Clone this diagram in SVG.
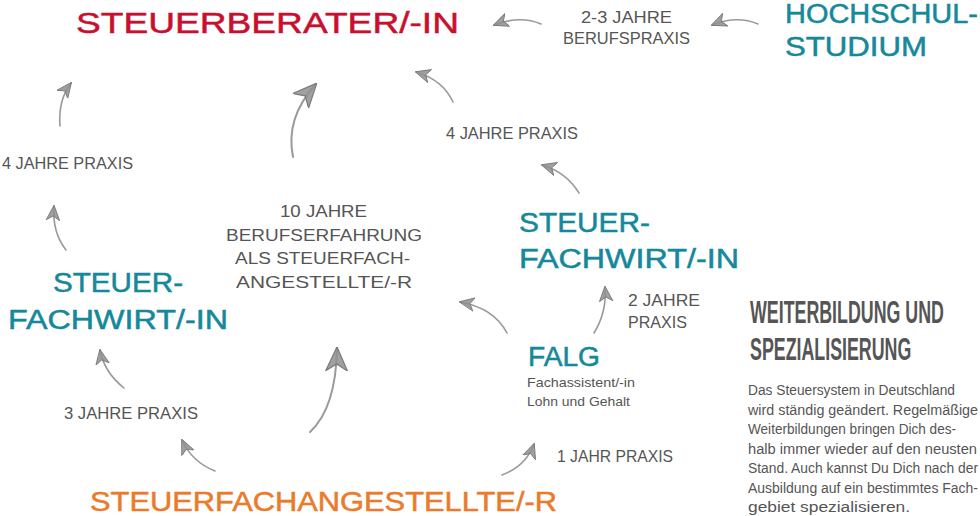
<svg xmlns="http://www.w3.org/2000/svg" width="980" height="516" viewBox="0 0 980 516">
<defs>
<style>
.h{font-family:"Liberation Sans","DejaVu Sans",sans-serif;}
.lbl{fill:#555;font-size:16.5px;}
.teal{fill:#15889b;stroke:#15889b;stroke-width:0.5;font-size:27px;}
.red{fill:#c8102e;stroke:#c8102e;stroke-width:0.5;font-size:30px;}
.orange{fill:#ea7b2b;stroke:#ea7b2b;stroke-width:0.5;font-size:28px;}
.sub{fill:#555;font-size:13.5px;font-family:"Liberation Sans","DejaVu Sans",sans-serif;}
.head{fill:#555;font-size:31px;font-weight:bold;font-family:"Liberation Sans","DejaVu Sans",sans-serif;}
.body{fill:#555;font-size:14px;font-family:"Liberation Sans","DejaVu Sans",sans-serif;}
.arr{fill:none;stroke:#9a9a9a;stroke-width:1.6;stroke-linecap:round;}
.big{stroke-width:2;}
</style>
<marker id="ah" viewBox="0 0 10 10" refX="9.5" refY="5" markerWidth="15" markerHeight="15" markerUnits="userSpaceOnUse" orient="auto">
<path d="M0,0.5 L10,5 L0,9.5 L2.8,5 Z" fill="#8f8f8f" fill-opacity="0.85" stroke="#7a7a7a" stroke-width="0.6"/>
</marker>
<marker id="ahL" viewBox="0 0 10 10" refX="9.5" refY="5" markerWidth="24" markerHeight="24" markerUnits="userSpaceOnUse" orient="auto">
<path d="M0,0.5 L10,5 L0,9.5 L2.8,5 Z" fill="#8f8f8f" fill-opacity="0.85" stroke="#7a7a7a" stroke-width="0.5"/>
</marker>
</defs>

<g id="connectors">
<path class="arr" d="M541,24 Q520,15 494,25" marker-end="url(#ah)"/>
<path class="arr" d="M758,24 Q737,15 712,25" marker-end="url(#ah)"/>
<path class="arr" d="M60,126 Q58,100 71,83" marker-end="url(#ah)"/>
<path class="arr big" d="M293,157 Q285,118 316,84" marker-end="url(#ahL)"/>
<path class="arr" d="M453,102 Q443,80 416,72" marker-end="url(#ah)"/>
<path class="arr" d="M66,250 Q52,232 54,206" marker-end="url(#ah)"/>
<path class="arr" d="M579,193 Q566,172 542,165" marker-end="url(#ah)"/>
<path class="arr" d="M507,333 Q494,308 460,302" marker-end="url(#ah)"/>
<path class="arr" d="M594,333 Q607,312 605,287" marker-end="url(#ah)"/>
<path class="arr" d="M502,475 Q526,466 534,444" marker-end="url(#ah)"/>
<path class="arr big" d="M310,432 Q336,408 337,348" marker-end="url(#ahL)"/>
<path class="arr" d="M124,388 Q104,372 100,350" marker-end="url(#ah)"/>
<path class="arr" d="M215,471 Q192,462 182,440" marker-end="url(#ah)"/>
</g>

<g id="steuerberater">
<text class="h red" x="76" y="33" textLength="383" lengthAdjust="spacingAndGlyphs">STEUERBERATER/-IN</text>
</g>

<g id="hochschulstudium">
<text class="h teal" x="785" y="23" textLength="193" lengthAdjust="spacingAndGlyphs">HOCHSCHUL-</text>
<text class="h teal" x="785" y="56" textLength="142" lengthAdjust="spacingAndGlyphs">STUDIUM</text>
</g>

<g id="label-berufspraxis">
<text class="h lbl" x="581" y="23" textLength="91" lengthAdjust="spacingAndGlyphs">2-3 JAHRE</text>
<text class="h lbl" x="563" y="44" textLength="127" lengthAdjust="spacingAndGlyphs">BERUFSPRAXIS</text>
</g>

<g id="label-4jahre-left">
<text class="h lbl" x="2" y="169" textLength="131" lengthAdjust="spacingAndGlyphs">4 JAHRE PRAXIS</text>
</g>

<g id="label-4jahre-right">
<text class="h lbl" x="446" y="139" textLength="132" lengthAdjust="spacingAndGlyphs">4 JAHRE PRAXIS</text>
</g>

<g id="label-10jahre">
<text class="h lbl" x="280" y="217" textLength="87" lengthAdjust="spacingAndGlyphs">10 JAHRE</text>
<text class="h lbl" x="226" y="241" textLength="196" lengthAdjust="spacingAndGlyphs">BERUFSERFAHRUNG</text>
<text class="h lbl" x="235" y="264" textLength="175" lengthAdjust="spacingAndGlyphs">ALS STEUERFACH-</text>
<text class="h lbl" x="236" y="288" textLength="176" lengthAdjust="spacingAndGlyphs">ANGESTELLTE/-R</text>
</g>

<g id="steuerfachwirt-left">
<text class="h teal" x="53" y="292" textLength="130" lengthAdjust="spacingAndGlyphs">STEUER-</text>
<text class="h teal" x="8" y="329" textLength="220" lengthAdjust="spacingAndGlyphs">FACHWIRT/-IN</text>
</g>

<g id="steuerfachwirt-right">
<text class="h teal" x="519" y="232" textLength="131" lengthAdjust="spacingAndGlyphs">STEUER-</text>
<text class="h teal" x="519" y="268" textLength="220" lengthAdjust="spacingAndGlyphs">FACHWIRT/-IN</text>
</g>

<g id="label-2jahre">
<text class="h lbl" x="628" y="306" textLength="72" lengthAdjust="spacingAndGlyphs">2 JAHRE</text>
<text class="h lbl" x="628" y="328" textLength="59" lengthAdjust="spacingAndGlyphs">PRAXIS</text>
</g>

<g id="falg">
<text class="h teal" x="528" y="366" textLength="72" lengthAdjust="spacingAndGlyphs">FALG</text>
<text class="sub" x="527" y="387" textLength="108" lengthAdjust="spacingAndGlyphs">Fachassistent/-in</text>
<text class="sub" x="527" y="406" textLength="103" lengthAdjust="spacingAndGlyphs">Lohn und Gehalt</text>
</g>

<g id="label-1jahr">
<text class="h lbl" x="557" y="462" textLength="116" lengthAdjust="spacingAndGlyphs">1 JAHR PRAXIS</text>
</g>

<g id="label-3jahre">
<text class="h lbl" x="64" y="419" textLength="134" lengthAdjust="spacingAndGlyphs">3 JAHRE PRAXIS</text>
</g>

<g id="steuerfachangestellte">
<text class="h orange" x="90" y="511" textLength="467" lengthAdjust="spacingAndGlyphs">STEUERFACHANGESTELLTE/-R</text>
</g>

<g id="weiterbildung">
<text class="head" transform="translate(750,323) scale(0.575,1)">WEITERBILDUNG UND</text>
<text class="head" transform="translate(750,360) scale(0.575,1)">SPEZIALISIERUNG</text>
<text class="body" x="748" y="395" textLength="207" lengthAdjust="spacingAndGlyphs">Das Steuersystem in Deutschland</text>
<text class="body" x="748" y="414.5" textLength="230" lengthAdjust="spacingAndGlyphs">wird ständig geändert. Regelmäßige</text>
<text class="body" x="748" y="434" textLength="208" lengthAdjust="spacingAndGlyphs">Weiterbildungen bringen Dich des-</text>
<text class="body" x="748" y="453.5" textLength="229" lengthAdjust="spacingAndGlyphs">halb immer wieder auf den neusten</text>
<text class="body" x="748" y="473" textLength="230" lengthAdjust="spacingAndGlyphs">Stand. Auch kannst Du Dich nach der</text>
<text class="body" x="748" y="492.5" textLength="230" lengthAdjust="spacingAndGlyphs">Ausbildung auf ein bestimmtes Fach-</text>
<text class="body" x="748" y="512" textLength="162" lengthAdjust="spacingAndGlyphs">gebiet spezialisieren.</text>
</g>
</svg>
